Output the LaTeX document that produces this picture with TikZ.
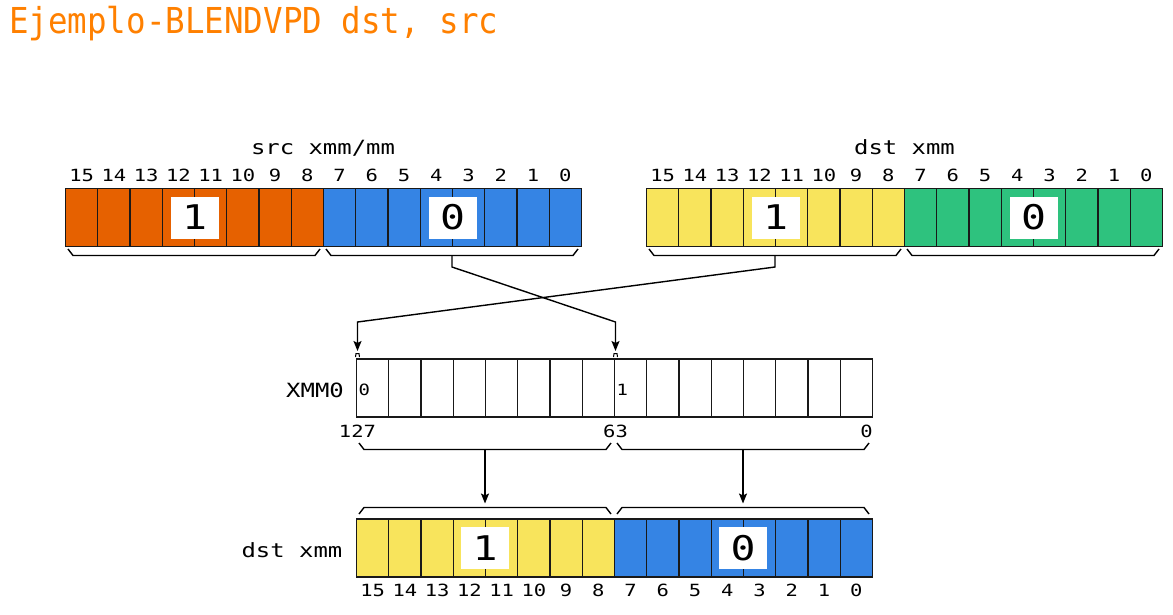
\documentclass[tikz,border=0pt]{standalone}
\usepackage{xcolor}
\usepackage{fontspec}
\usepackage{tikz}
\usetikzlibrary{arrows.meta,calc}

\newfontfamily\diagfont[FakeStretch=1.22]{DejaVu Sans Mono}
\newfontfamily\headfont[FakeStretch=0.91]{DejaVu Sans Mono}
\definecolor{headorange}{HTML}{FF8000}
\definecolor{regorange}{HTML}{E66100}
\definecolor{regblue}{HTML}{3584E4}
\definecolor{regyellow}{HTML}{F8E45C}
\definecolor{reggreen}{HTML}{2EC27E}

\begin{document}
\begin{tikzpicture}[x=1pt, y=-1pt]
	\useasboundingbox (0,0) rectangle (1173,614);
	% Define styles
	\tikzstyle{cell}=[draw=black!90, line width=1.4pt, minimum width=32.25pt, minimum height=58pt, inner sep=0pt, outer sep=0pt]
	\tikzstyle{bit}=[font=\diagfont\fontsize{16.8}{18}\selectfont, inner sep=0pt]
	\tikzstyle{lbl}=[font=\diagfont\fontsize{15.5}{17}\selectfont, inner sep=0pt]
	\tikzstyle{regname}=[font=\diagfont\fontsize{19.6}{22}\selectfont, inner sep=0pt]
	\tikzstyle{val}=[fill=white, minimum width=48pt, minimum height=42pt, inner sep=0pt, font=\diagfont\fontsize{34}{36}\selectfont]
	\tikzstyle{brk}=[line width=1.4pt]
	\tikzstyle{conn}=[line width=1.4pt, -{Stealth[length=10pt, width=8pt, inset=2pt]}]

	\node[anchor=base west, inner sep=0pt, text=headorange, font=\headfont\fontsize{35.7}{40}\selectfont] (title) at (9,33.5) {Ejemplo-BLENDVPD dst, src};

	% src xmm/mm
	\node[regname, anchor=base] (nS) at (323,154) {src xmm/mm};
	\foreach \i in {8,...,15} \node[cell, fill=regorange] (s\i) at ({65.5+(15.5-\i)*32.25},217.5) {};
	\foreach \i in {0,...,7} \node[cell, fill=regblue] (s\i) at ({65.5+(15.5-\i)*32.25},217.5) {};
	\foreach \i in {0,...,15} \node[bit] (sb\i) at ({65.5+(15.5-\i)*32.25},175) {\i};
	\node[val] (vS1) at (194.5,217.5) {1};
	\node[val] (vS0) at (452.5,217.5) {0};
	\draw[brk] (68,249) -- ++(5,6.5) -- coordinate[pos=0.5] (bS1) ++(242,0) -- ++(5,-6.5);
	\draw[brk] (326,249) -- ++(5,6.5) -- coordinate[pos=0.5] (bS0) ++(242,0) -- ++(5,-6.5);

	% dst xmm
	\node[regname, anchor=base] (nD) at (904.5,154) {dst xmm};
	\foreach \i in {8,...,15} \node[cell, fill=regyellow] (d\i) at ({646.5+(15.5-\i)*32.25},217.5) {};
	\foreach \i in {0,...,7} \node[cell, fill=reggreen] (d\i) at ({646.5+(15.5-\i)*32.25},217.5) {};
	\foreach \i in {0,...,15} \node[bit] (db\i) at ({646.5+(15.5-\i)*32.25},175) {\i};
	\node[val] (vD1) at (775.5,217.5) {1};
	\node[val] (vD0) at (1033.5,217.5) {0};
	\draw[brk] (649,249) -- ++(5,6.5) -- coordinate[pos=0.5] (bD1) ++(242,0) -- ++(5,-6.5);
	\draw[brk] (907,249) -- ++(5,6.5) -- coordinate[pos=0.5] (bD0) ++(242,0) -- ++(5,-6.5);

	% XMM0
	\node[regname, anchor=base east] (nX) at (344,397) {XMM0};
	\foreach \i in {0,...,15} \node[cell, fill=white] (x\i) at ({356.5+(15.5-\i)*32.25},388) {};
	\node[lbl, anchor=base west] (xl0) at (358.5,395.5) {0};
	\node[lbl, anchor=base west] (xl1) at (616.5,395.5) {1};
	\node[bit, anchor=base] (n127) at (357.5,437) {127};
	\node[bit, anchor=base] (n63) at (615.5,437) {63};
	\node[bit, anchor=base east] (n0) at (873,437) {0};
	\coordinate (t127) at (357.5,351);
	\coordinate (t63) at (615.5,351);
	\draw[line width=1pt] (355.5,357) -- (356,353.5) -- (359,353.5) -- (359.5,357);
	\draw[line width=1pt] (613.5,357) -- (614,353.5) -- (617,353.5) -- (617.5,357);
	\draw[brk] (359,443) -- ++(5,6.5) -- coordinate[pos=0.5] (bX1) ++(242,0) -- ++(5,-6.5);
	\draw[brk] (617,443) -- ++(5,6.5) -- coordinate[pos=0.5] (bX0) ++(242,0) -- ++(5,-6.5);

	% dst xmm (result)
	\node[regname, anchor=base east] (nR) at (342.5,557) {dst xmm};
	\foreach \i in {8,...,15} \node[cell, fill=regyellow] (r\i) at ({356.5+(15.5-\i)*32.25},548) {};
	\foreach \i in {0,...,7} \node[cell, fill=regblue] (r\i) at ({356.5+(15.5-\i)*32.25},548) {};
	\foreach \i in {0,...,15} \node[bit] (rb\i) at ({356.5+(15.5-\i)*32.25},590.5) {\i};
	\node[val] (vR1) at (485,548) {1};
	\node[val] (vR0) at (743,548) {0};
	\draw[brk] (359,514) -- ++(5,-6.5) -- coordinate[pos=0.5] (tR1) ++(242,0) -- ++(5,6.5);
	\draw[brk] (617,514) -- ++(5,-6.5) -- coordinate[pos=0.5] (tR0) ++(242,0) -- ++(5,6.5);

	% connectors
	\draw[conn] (bS0) -- ++(0,11.5) -- ($(t63)+(0,-29)$) -- (t63);
	\draw[conn] (bD1) -- ++(0,11.5) -- ($(t127)+(0,-29)$) -- (t127);
	\draw[conn] (bX1) -- ($(tR1)+(0,-4)$);
	\draw[conn] (bX0) -- ($(tR0)+(0,-4)$);
\end{tikzpicture}
\end{document}
